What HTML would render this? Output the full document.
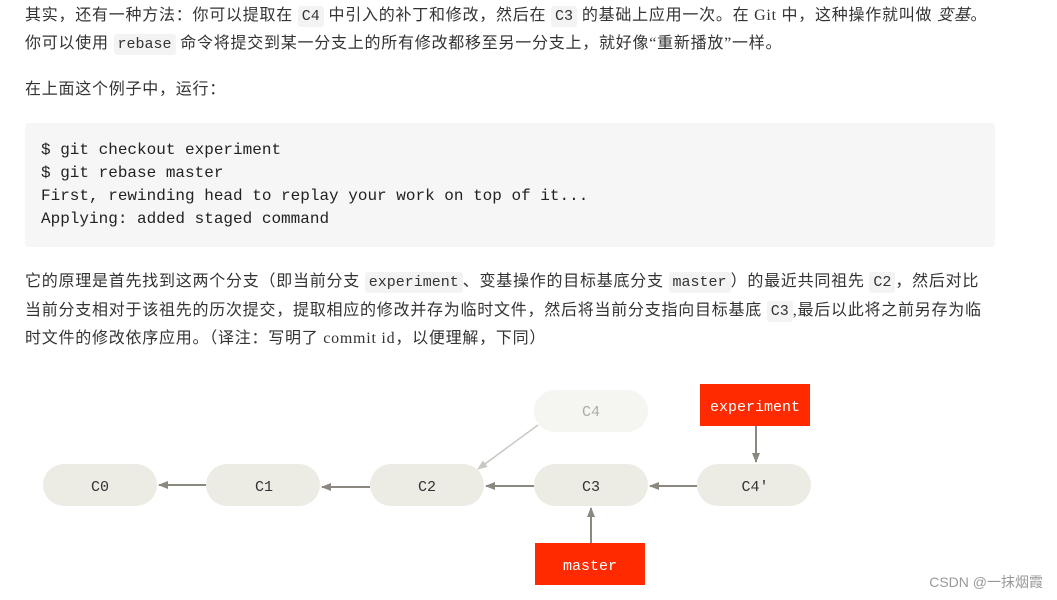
<!DOCTYPE html>
<html><head><meta charset="utf-8"><style>
body{margin:0;background:#fff;width:1057px;height:600px;overflow:hidden;position:relative;font-family:"Liberation Serif","Noto Sans CJK SC",serif;color:#333;font-size:16px}
.p{position:absolute;left:25px;line-height:27px;white-space:nowrap;letter-spacing:0.75px}
code{font-family:"Liberation Mono","DejaVu Sans Mono",monospace;background:#f3f3f3;padding:2px 4px;border-radius:3px;font-size:15px;letter-spacing:0}
pre{position:absolute;left:25px;top:123px;width:938px;height:92px;margin:0;padding:16px;background:#f6f6f6;border-radius:4px;font-family:"Liberation Mono","DejaVu Sans Mono",monospace;font-size:16px;line-height:23px;color:#222}
</style></head><body>
<div class="p" style="top:2px">其实，还有一种方法：你可以提取在 <code>C4</code> 中引入的补丁和修改，然后在 <code>C3</code> 的基础上应用一次。在 Git 中，这种操作就叫做 <i>变基</i>。<br>你可以使用 <code>rebase</code> 命令将提交到某一分支上的所有修改都移至另一分支上，就好像“重新播放”一样。</div>
<div class="p" style="top:76px">在上面这个例子中，运行：</div>
<pre>$ git checkout experiment
$ git rebase master
First, rewinding head to replay your work on top of it...
Applying: added staged command</pre>
<div class="p" style="top:268px;line-height:27.5px">它的原理是首先找到这两个分支（即当前分支 <code>experiment</code>、变基操作的目标基底分支 <code>master</code>）的最近共同祖先 <code>C2</code>，然后对比<br>当前分支相对于该祖先的历次提交，提取相应的修改并存为临时文件，然后将当前分支指向目标基底 <code>C3</code>,最后以此将之前另存为临<br>时文件的修改依序应用。（译注：写明了 commit id，以便理解，下同）</div>
<svg style="position:absolute;left:0;top:0" width="1057" height="600" font-family="Liberation Mono,DejaVu Sans Mono,monospace" font-size="15">
<defs><marker id="a" markerWidth="10" markerHeight="8" refX="9" refY="4" orient="auto" markerUnits="userSpaceOnUse"><path d="M0,0L10,4L0,8z" fill="#8a887f"/></marker>
<marker id="b" markerWidth="10" markerHeight="8" refX="9" refY="4" orient="auto" markerUnits="userSpaceOnUse"><path d="M0,0L10,4L0,8z" fill="#c8c7c2"/></marker></defs>
<g fill="#ecece5">
<rect x="43" y="464" width="114" height="42" rx="21"/>
<rect x="206" y="464" width="114" height="42" rx="21"/>
<rect x="370" y="464" width="114" height="42" rx="21"/>
<rect x="534" y="464" width="114" height="42" rx="21"/>
<rect x="697" y="464" width="114" height="42" rx="21"/>
</g>
<rect x="534" y="390" width="114" height="42" rx="21" fill="#f5f5f1"/>
<rect x="700" y="384" width="110" height="42" fill="#ff2a00"/>
<rect x="535" y="543" width="110" height="42" fill="#ff2a00"/>
<g stroke="#8a887f" stroke-width="2" marker-end="url(#a)">
<line x1="206" y1="485" x2="159" y2="485"/>
<line x1="370" y1="487" x2="322" y2="487"/>
<line x1="534" y1="486" x2="486" y2="486"/>
<line x1="697" y1="486" x2="650" y2="486"/>
<line x1="756" y1="426" x2="756" y2="462"/>
<line x1="591" y1="543" x2="591" y2="508"/>
</g>
<line x1="538" y1="425" x2="478" y2="469" stroke="#c8c7c2" stroke-width="1.5" marker-end="url(#b)"/>
<g text-anchor="middle" fill="#333">
<text x="100" y="491">C0</text><text x="264" y="491">C1</text><text x="427" y="491">C2</text><text x="591" y="491">C3</text><text x="755" y="491">C4'</text>
<text x="591" y="416" fill="#aaa">C4</text>
<text x="755" y="411" fill="#fff">experiment</text>
<text x="590" y="570" fill="#fff">master</text>
</g>
<text x="1043" y="587" text-anchor="end" font-family="Liberation Sans,Noto Sans CJK SC,sans-serif" font-size="14" fill="#999">CSDN @一抹烟霞</text>
</svg>
</body></html>
